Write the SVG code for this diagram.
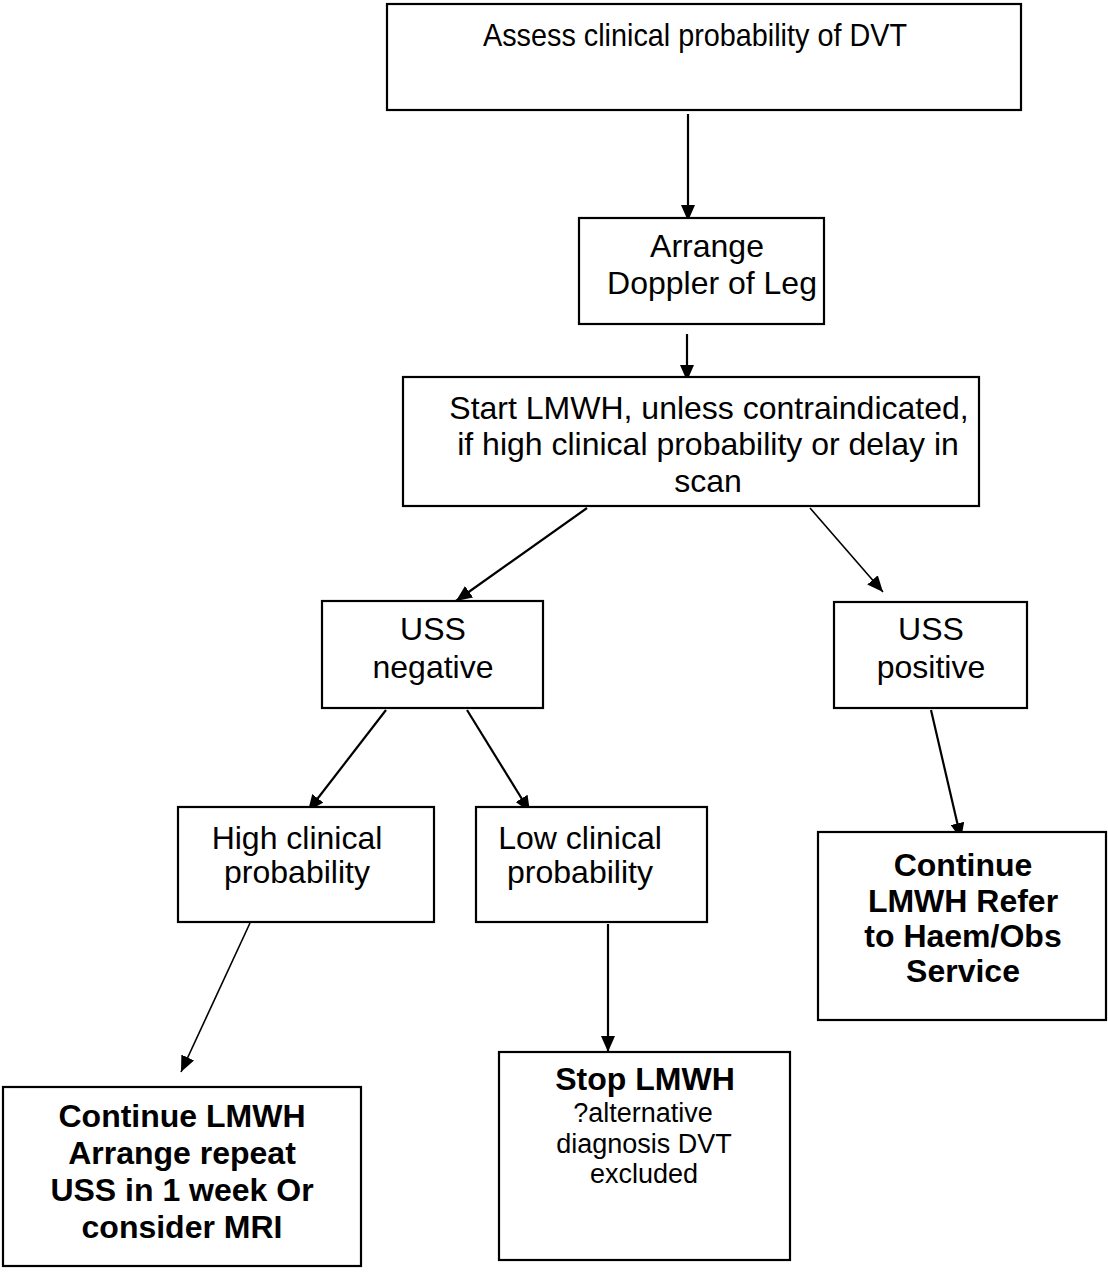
<svg xmlns="http://www.w3.org/2000/svg" width="1108" height="1275" viewBox="0 0 1108 1275">
<style>
.box{fill:#fff;stroke:#000;stroke-width:2.2}
.t{font-family:"Liberation Sans",Arial,sans-serif;font-size:32px;fill:#000;text-anchor:middle}
.b{font-weight:bold}
.s{font-size:27px}
.c{stroke:#000;stroke-width:2.2;fill:none;marker-end:url(#ah)}
.thin{stroke-width:1.6}
</style>
<defs>
<marker id="ah" markerUnits="userSpaceOnUse" markerWidth="16" markerHeight="14" refX="16" refY="7" orient="auto">
<path d="M0,0 L16,7 L0,14 z" fill="#000"/>
</marker>
</defs>
<rect width="1108" height="1275" fill="#fff"/>
<g id="connectors">
<line class="c" x1="688" y1="114" x2="688" y2="221"/>
<line class="c" x1="687" y1="334" x2="687" y2="381"/>
<line class="c" x1="587" y1="508" x2="456" y2="601"/>
<line class="c thin" x1="810" y1="508" x2="883" y2="592"/>
<line class="c" x1="386" y1="710" x2="308" y2="811"/>
<line class="c" x1="467" y1="710" x2="530" y2="812"/>
<line class="c" x1="931" y1="710" x2="961" y2="839"/>
<line class="c" x1="608" y1="924" x2="608" y2="1052"/>
<line class="c thin" x1="250" y1="923" x2="181" y2="1072"/>
</g>
<g id="assess">
<rect class="box" x="387" y="4" width="634" height="106"/>
<text class="t" x="695" y="46" textLength="424" lengthAdjust="spacingAndGlyphs">Assess clinical probability of DVT</text>
</g>
<g id="doppler">
<rect class="box" x="579" y="218" width="245" height="106"/>
<text class="t" x="707" y="257">Arrange</text>
<text class="t" x="712" y="294">Doppler of Leg</text>
</g>
<g id="start">
<rect class="box" x="403" y="377" width="576" height="129"/>
<text class="t" x="709" y="419">Start LMWH, unless contraindicated,</text>
<text class="t" x="708" y="455">if high clinical probability or delay in</text>
<text class="t" x="708" y="492">scan</text>
</g>
<g id="uss-negative">
<rect class="box" x="322" y="601" width="221" height="107"/>
<text class="t" x="433" y="640">USS</text>
<text class="t" x="433" y="678">negative</text>
</g>
<g id="uss-positive">
<rect class="box" x="834" y="602" width="193" height="106"/>
<text class="t" x="931" y="640">USS</text>
<text class="t" x="931" y="678">positive</text>
</g>
<g id="high">
<rect class="box" x="178" y="807" width="256" height="115"/>
<text class="t" x="297" y="849">High clinical</text>
<text class="t" x="297" y="883">probability</text>
</g>
<g id="low">
<rect class="box" x="476" y="807" width="231" height="115"/>
<text class="t" x="580" y="849">Low clinical</text>
<text class="t" x="580" y="883">probability</text>
</g>
<g id="continue-refer">
<rect class="box" x="818" y="832" width="288" height="188"/>
<text class="t b" x="963" y="876">Continue</text>
<text class="t b" x="963" y="912">LMWH Refer</text>
<text class="t b" x="963" y="947">to Haem/Obs</text>
<text class="t b" x="963" y="982">Service</text>
</g>
<g id="stop">
<rect class="box" x="499" y="1052" width="291" height="208"/>
<text class="t b" x="645" y="1090">Stop LMWH</text>
<text class="t s" x="643" y="1122">?alternative</text>
<text class="t s" x="644" y="1153">diagnosis DVT</text>
<text class="t s" x="644" y="1183">excluded</text>
</g>
<g id="continue-repeat">
<rect class="box" x="3" y="1087" width="358" height="179"/>
<text class="t b" x="182" y="1127">Continue LMWH</text>
<text class="t b" x="182" y="1164">Arrange repeat</text>
<text class="t b" x="182" y="1201">USS in 1 week Or</text>
<text class="t b" x="182" y="1238">consider MRI</text>
</g>
</svg>
